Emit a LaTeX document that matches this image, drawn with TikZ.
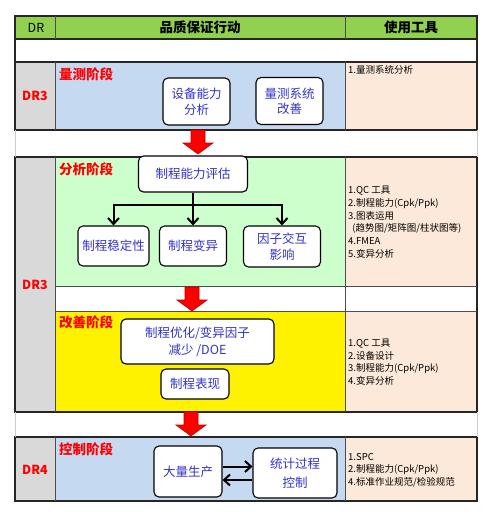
\documentclass[tikz,border=0pt]{standalone}
\usepackage{fontspec}
\setmainfont{Noto Sans CJK SC}
\usetikzlibrary{arrows.meta}
\definecolor{hdgreen}{RGB}{146,208,80}
\definecolor{stblue}{RGB}{197,217,241}
\definecolor{stgreen}{RGB}{204,255,204}
\definecolor{toolpeach}{RGB}{253,233,217}
\definecolor{drgrey}{RGB}{217,217,217}
\definecolor{boxblue}{RGB}{51,51,204}
\begin{document}
\begin{tikzpicture}[x=1pt,y=-1pt,
  stepbox/.style={draw, line width=1.1pt, rounded corners=5pt, fill=white, text=boxblue, align=center, inner sep=0pt, font=\fontsize{12.5}{15.5}\selectfont},
  stage/.style={anchor=west, inner sep=0pt, text=red, font=\fontsize{13.5}{16}\selectfont\bfseries},
  drlabel/.style={text=red, font=\fontsize{12.5}{15}\selectfont\bfseries},
  headtext/.style={font=\fontsize{13.5}{16}\selectfont\bfseries},
  tools/.style={anchor=west, align=left, inner sep=0pt, font=\fontsize{9.5}{12.7}\selectfont},
  frame/.style={line width=1.2pt, draw=black!85},
  inner/.style={line width=0.6pt, draw=black!70},
  flow/.style={line width=2pt, -{Straight Barb[length=6pt,width=11pt]}},
  bigarrow/.style={fill=red, draw=red!70!black, line width=0.6pt}]
  \useasboundingbox (0,0) rectangle (495,520);
  \fill[hdgreen] (15,16) rectangle (477,39);
  \fill[drgrey] (15,62) rectangle (55,130) (15,157) rectangle (55,412) (15,437) rectangle (55,501);
  \fill[stblue] (55,62) rectangle (345,130) (55,437) rectangle (345,501);
  \fill[stgreen] (55,157) rectangle (345,286);
  \fill[yellow] (55,311) rectangle (345,412);
  \fill[toolpeach] (345,62) rectangle (477,130) (345,157) rectangle (477,286) (345,311) rectangle (477,412) (345,437) rectangle (477,501);
  \draw[frame] (15,16) rectangle (477,62) (15,39) -- (477,39);
  \draw[inner] (55,16) -- (55,39) (345,16) -- (345,39);
  \foreach \t/\b in {62/130,157/412,437/501} {
    \draw[frame] (15,\t) rectangle (477,\b);
    \draw[inner] (55,\t) -- (55,\b) (345,\t) -- (345,\b);
  }
  \draw[inner] (55,286) -- (477,286) (55,311) -- (477,311);
  \foreach \t/\b in {130/157,412/437} \draw[gray!40] (15,\t) -- (15,\b) (477,\t) -- (477,\b);
  \foreach \x/\t in {198/130,192/287,191/412}
    \draw[bigarrow] (\x-7,\t) -- (\x+7,\t) -- (\x+7,\t+13) -- (\x+15,\t+13) -- (\x,\t+24) -- (\x-15,\t+13) -- (\x-7,\t+13) -- cycle;

  \node (hdr) at (36,27.5) {\fontsize{12.5}{14}\selectfont DR};
  \node[headtext] (hact) at (200,27.5) {品质保证行动};
  \node[headtext] (htool) at (411,27.5) {使用工具};

  \node[drlabel] (dr1) at (35,96) {DR3};
  \node[drlabel] (dr2) at (35,285) {DR3};
  \node[drlabel] (dr3) at (35,470) {DR4};

  \node[stage] (msa) at (59,74) {量测阶段};
  \node[stage] (ana) at (59,169) {分析阶段};
  \node[stage] (imp) at (59,322) {改善阶段};
  \node[stage] (ctl) at (59,449) {控制阶段};

  \node[tools] (t1) at (348,70) {1.量测系统分析};
  \node[tools] (t2) at (348,222) {1.QC 工具\\2.制程能力(Cpk/Ppk)\\3.图表运用\\\ \ (趋势图/矩阵图/柱状图等)\\4.FMEA\\5.变异分析};
  \node[tools] (t3) at (348,362) {1.QC 工具\\2.设备设计\\3.制程能力(Cpk/Ppk)\\4.变异分析};
  \node[tools] (t4) at (348,470) {1.SPC\\2.制程能力(Cpk/Ppk)\\4.标准作业规范/检验规范};

  \node[stepbox, minimum width=67, minimum height=47] (eq) at (196.5,101.5) {设备能力\\分析};
  \node[stepbox, minimum width=67, minimum height=47] (ms) at (289.5,101) {量测系统\\改善};
  \node[stepbox, minimum width=109, minimum height=36] (pc) at (193,174) {制程能力评估};
  \node[stepbox, minimum width=71, minimum height=40] (st) at (113.5,246) {制程稳定性};
  \node[stepbox, minimum width=67, minimum height=40] (va) at (193,246) {制程变异};
  \node[stepbox, minimum width=77, minimum height=41] (fi) at (282,246.5) {因子交互\\影响};
  \node[stepbox, minimum width=153, minimum height=45] (op) at (197.5,341.5) {制程优化/变异因子\\[1.5pt]减少 /DOE};
  \node[stepbox, minimum width=68, minimum height=30] (pf) at (195,384) {制程表现};
  \node[stepbox, minimum width=68, minimum height=51] (mp) at (188,471.5) {大量生产};
  \node[stepbox, minimum width=84, minimum height=50] (sp) at (295,473) {统计过程\\[3.5pt]控制};

  \coordinate (fork) at ([yshift=-12pt]pc.south);
  \draw[line width=2pt] (pc.south) -- (fork);
  \draw[flow] (fork) -| (st.north);
  \draw[flow] (fork) -- (va.north);
  \draw[flow] (fork) -| (fi.north);
  \draw[flow] ([yshift=5pt]mp.east) -- ([yshift=5pt]mp.east -| sp.west);
  \draw[flow] ([yshift=-8.5pt]mp.east -| sp.west) -- ([yshift=-8.5pt]mp.east);
\end{tikzpicture}
\end{document}
